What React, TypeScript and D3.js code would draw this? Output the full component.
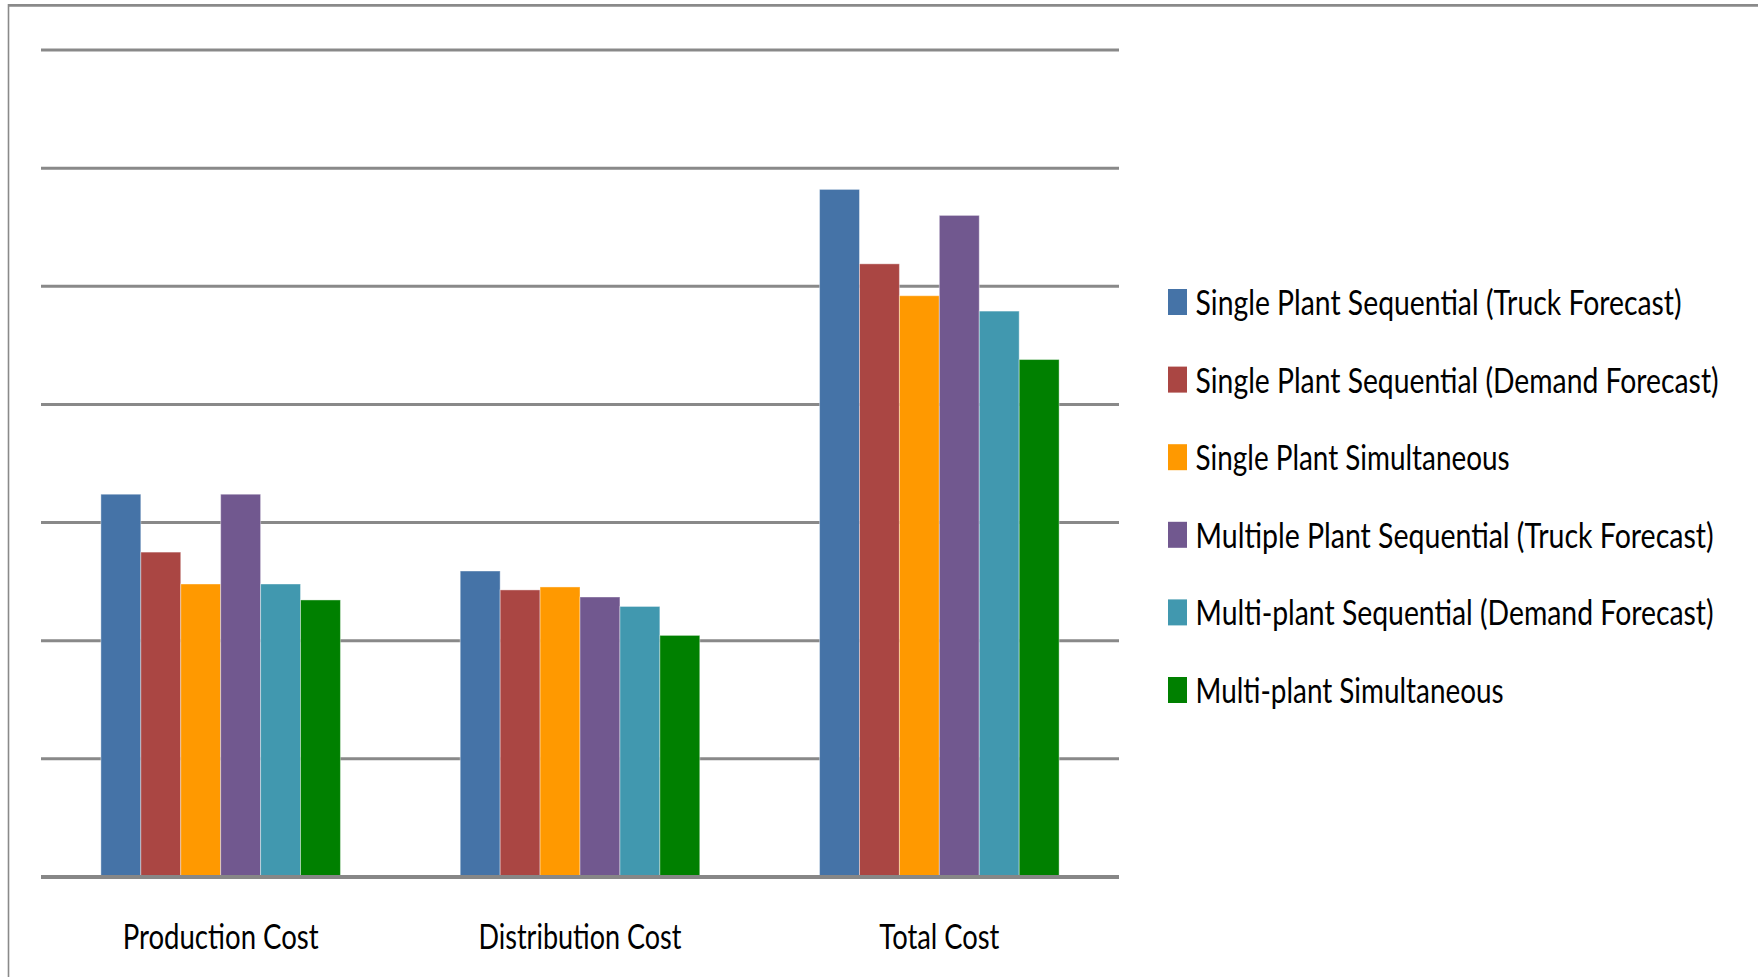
import React from "react";
import * as d3 from "d3";

const categories = ["Production Cost", "Distribution Cost", "Total Cost"];
const seriesNames = [
  "Single Plant Sequential (Truck Forecast)",
  "Single Plant Sequential (Demand Forecast)",
  "Single Plant Simultaneous",
  "Multiple Plant Sequential (Truck Forecast)",
  "Multi-plant Sequential (Demand Forecast)",
  "Multi-plant Simultaneous",
];
// values in gridline units (no axis labels in original)
const singleTruck = [3.24, 2.59, 5.82];
const singleDemand = [2.75, 2.43, 5.19];
const singleSimul = [2.48, 2.455, 4.92];
const multiTruck = [3.24, 2.37, 5.6];
const multiDemand = [2.48, 2.29, 4.79];
const multiSimul = [2.345, 2.045, 4.38];
const seriesValues = [singleTruck, singleDemand, singleSimul, multiTruck, multiDemand, multiSimul];
const yTicks = [0, 1, 2, 3, 4, 5, 6, 7];

const colors = ["#4573A7", "#AA4643", "#FF9900", "#71588F", "#4198AF", "#008000"];
const legendTextWidths = [486, 523, 314, 518, 518, 308];
const catTextWidths = [196, 203, 120];

const W = 1758;
const H = 977;
const plotLeft = 41;
const plotRight = 1119;
const plotTop = 50;
const plotBottom = 877;

export default function App() {
  const x0 = d3.scaleBand<string>().domain(categories).range([plotLeft, plotRight]).padding(0);
  const x1 = d3
    .scaleBand<number>()
    .domain(d3.range(seriesNames.length))
    .range([0, x0.bandwidth()])
    .paddingInner(0)
    .paddingOuter(1.5);
  const y = d3.scaleLinear().domain([0, 7]).range([plotBottom, plotTop]);

  const font = "Lato, 'Open Sans', sans-serif";
  const legendX = 1168;
  const legendY0 = 289;
  const rowStep = 77.6;

  return (
    <svg
      width={W}
      height={H}
      style={{ position: "absolute", left: 0, top: 0, background: "#fff" }}
    >
      <rect x={0} y={0} width={W} height={H} fill="#fff" />
      {/* frame */}
      <line x1={8.5} x2={W} y1={5.3} y2={5.3} stroke="#8a8a8a" strokeWidth={2.7} />
      <line x1={8.5} x2={8.5} y1={4} y2={H} stroke="#8a8a8a" strokeWidth={1.6} />

      {/* gridlines */}
      {yTicks.slice(1).map((t) => (
        <line
          key={t}
          x1={plotLeft}
          x2={plotRight}
          y1={y(t)}
          y2={y(t)}
          stroke="#898989"
          strokeWidth={3}
        />
      ))}

      {/* bars */}
      {categories.map((c, ci) => (
        <g key={c} transform={`translate(${x0(c)},0)`}>
          {seriesValues.map((vals, si) => (
            <rect
              key={si}
              x={x1(si)}
              y={y(vals[ci])}
              width={x1.bandwidth()}
              height={plotBottom - y(vals[ci])}
              fill={colors[si]}
              stroke="rgba(255,255,255,0.4)"
              strokeWidth={1}
            />
          ))}
        </g>
      ))}

      {/* axis line */}
      <line x1={plotLeft} x2={plotRight} y1={plotBottom} y2={plotBottom} stroke="#878787" strokeWidth={4} />

      {/* category labels */}
      {categories.map((c, ci) => (
        <text
          key={c}
          x={(x0(c) as number) + x0.bandwidth() / 2}
          y={949}
          textAnchor="middle"
          fontFamily={font}
          fontSize={35}
          fill="#000"
          textLength={catTextWidths[ci]}
          lengthAdjust="spacingAndGlyphs"
        >
          {c}
        </text>
      ))}

      {/* legend */}
      {seriesNames.map((s, si) => (
        <g key={s} transform={`translate(${legendX},${legendY0 + si * rowStep})`}>
          <rect x={0} y={0} width={19} height={26} fill={colors[si]} />
          <text
            x={27.6}
            y={26}
            fontFamily={font}
            fontSize={35}
            fill="#000"
            textLength={legendTextWidths[si]}
            lengthAdjust="spacingAndGlyphs"
          >
            {s}
          </text>
        </g>
      ))}
    </svg>
  );
}
